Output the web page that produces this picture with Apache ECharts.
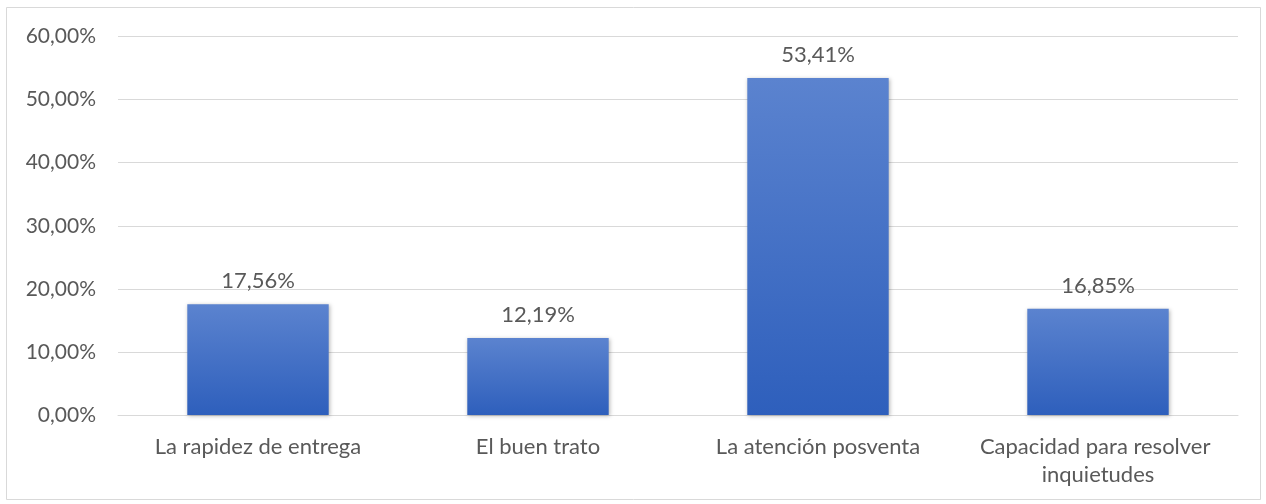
<!DOCTYPE html>
<html>
<head>
<meta charset="utf-8">
<script src="https://cdn.jsdelivr.net/npm/echarts@6/dist/echarts.min.js"></script>
<style>
  html, body { margin: 0; padding: 0; background: #ffffff; }
  #chart { width: 1266px; height: 504px; }
</style>
</head>
<body>
<div id="chart"></div>
<script>
// Aspectos valorados por los clientes (porcentaje de respuestas)
const categories = [
  'La rapidez de entrega',
  'El buen trato',
  'La atención posventa',
  'Capacidad para resolver inquietudes'
];
const values = [17.56, 12.19, 53.41, 16.85];
const axisMin = 0;
const axisMax = 60;
const axisStep = 10;

const fmt = (v, d) => v.toFixed(d).replace('.', ',') + '%';
const textColor = '#595959';
const fontFamily = 'Lato, "Open Sans", sans-serif';

const chart = echarts.init(document.getElementById('chart'), null, { renderer: 'canvas' });
chart.setOption({
  backgroundColor: '#ffffff',
  animation: false,
  graphic: [{
    type: 'rect',
    shape: { x: 6.5, y: 7.5, width: 1254, height: 492 },
    style: { fill: 'none', stroke: '#d9d9d9', lineWidth: 1 },
    silent: true
  }],
  grid: { left: 118, right: 28, top: 36.5, bottom: 89, containLabel: false },
  xAxis: {
    type: 'category',
    data: categories,
    axisLine: { show: true, lineStyle: { color: '#d9d9d9', width: 1 } },
    axisTick: { show: false },
    axisLabel: {
      color: textColor,
      fontFamily: fontFamily,
      fontSize: 22,
      margin: 18,
      lineHeight: 28,
      width: 260,
      overflow: 'break',
      interval: 0
    }
  },
  yAxis: {
    type: 'value',
    min: axisMin,
    max: axisMax,
    interval: axisStep,
    axisLine: { show: false },
    axisTick: { show: false },
    splitLine: { lineStyle: { color: '#d9d9d9', width: 1 } },
    axisLabel: {
      color: textColor,
      fontFamily: fontFamily,
      fontSize: 21,
      margin: 22,
      formatter: v => fmt(v, 2)
    }
  },
  series: [{
    type: 'bar',
    data: values,
    barWidth: '50.5%',
    itemStyle: {
      color: new echarts.graphic.LinearGradient(0, 0, 0, 1, [
        { offset: 0, color: '#5b83cf' },
        { offset: 1, color: '#2e5fbc' }
      ]),
      shadowColor: 'rgba(0,0,0,0.28)',
      shadowBlur: 4,
      shadowOffsetX: 1,
      shadowOffsetY: 1
    },
    label: {
      show: true,
      position: 'top',
      distance: 12,
      color: textColor,
      fontFamily: fontFamily,
      fontSize: 22,
      formatter: p => fmt(p.value, 2)
    }
  }]
});
</script>
</body>
</html>
